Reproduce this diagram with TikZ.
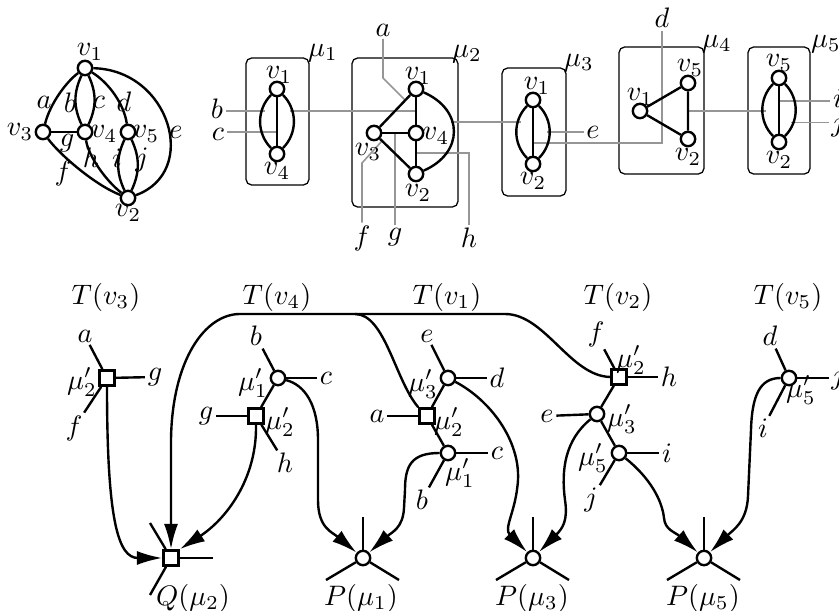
\documentclass[tikz,border=0pt]{standalone}
\usetikzlibrary{arrows.meta,fit}
\definecolor{gline}{RGB}{150,150,150}
\begin{document}
\begin{tikzpicture}[x=0.355pt,y=-0.355pt,
  vtx/.style={circle,draw,line width=0.85pt,fill=white,minimum size=5.1pt,inner sep=0pt},
  sq/.style={rectangle,draw,line width=0.85pt,fill=white,minimum size=5.4pt,inner sep=0pt},
  lbl/.style={inner sep=0.8pt},
  edge/.style={line width=0.85pt},
  gl/.style={line width=0.55pt,draw=gline},
  boxn/.style={draw,line width=0.45pt,rounded corners=2pt,inner sep=0pt},
  arr/.style={line width=0.85pt,-{Latex[length=9pt,width=5pt]}}
]
\useasboundingbox (0,0) rectangle (839,611);
\clip (0,0) rectangle (839,611);

% ---------- top-left graph ----------
\node[vtx] (g1) at (85,68) {};
\node[vtx] (g3) at (43,132) {};
\node[vtx] (g4) at (85,132) {};
\node[vtx] (g5) at (128,132) {};
\node[vtx] (g2) at (128,198) {};
\node[lbl] (tg1) at (90,52) {$v_1$};
\node[lbl] (tg3) at (20,132) {$v_3$};
\node[lbl] (tg4) at (104,134) {$v_4$};
\node[lbl] (tg5) at (146,134) {$v_5$};
\node[lbl] (tg2) at (128,213) {$v_2$};
\draw[edge] (g1) .. controls (66,82) and (50,104) .. (g3);
\draw[edge] (g1) to[bend right=25] (g4);
\draw[edge] (g1) to[bend left=25] (g4);
\draw[edge] (g1) .. controls (109,83) and (124,104) .. (g5);
\draw[edge] (g1) .. controls (170,70) and (200,172) .. (g2);
\draw[edge] (g3) .. controls (60,155) and (95,185) .. (g2);
\draw[edge] (g3) -- (g4);
\draw[edge] (g4) .. controls (88,155) and (105,180) .. (g2);
\draw[edge] (g5) to[bend right=25] (g2);
\draw[edge] (g5) to[bend left=25] (g2);
\node[lbl] (ea) at (44,102) {$a$};
\node[lbl] (eb) at (70,103) {$b$};
\node[lbl] (ec) at (99,102) {$c$};
\node[lbl] (ed) at (124,102) {$d$};
\node[lbl] (ee) at (176,132) {$e$};
\node[lbl] (eg) at (67,143) {$g$};
\node[lbl] (eh) at (91,158) {$h$};
\node[lbl] (ei) at (117,158) {$i$};
\node[lbl] (ej) at (142,160) {$j$};
\node[lbl] (ef) at (63,173) {$f$};

% ---------- boxes ----------
\node[boxn,fit={(246,58) (309,185)}] (m1) {};
\node[boxn,fit={(352,58) (458,207)}] (m2) {};
\node[boxn,fit={(502,68) (566,196)}] (m3) {};
\node[boxn,fit={(619,47) (704,174)}] (m4) {};
\node[boxn,fit={(748,47) (810,174)}] (m5) {};
\node[lbl] (tm1) at (323,53) {$\mu_1$};
\node[lbl] (tm2) at (467,54) {$\mu_2$};
\node[lbl] (tm3) at (579,63) {$\mu_3$};
\node[lbl] (tm4) at (717,44) {$\mu_4$};
\node[lbl] (tm5) at (826,44) {$\mu_5$};

% gray labels
\node[lbl] (lb1) at (217,109) {$b$};
\node[lbl] (lc1) at (218,134) {$c$};
\node[lbl] (la2) at (383,30) {$a$};
\node[lbl] (lg2) at (395,237) {$g$};
\node[lbl] (lf2) at (362,238) {$f$};
\node[lbl] (lh2) at (469,238) {$h$};
\node[lbl] (le3) at (593,132) {$e$};
\node[lbl] (ld4) at (662,18) {$d$};
\node[lbl] (li5) at (838,98) {$i$};
\node[lbl] (lj5) at (838,125) {$j$};

% gray lines
\draw[gl] (lb1.east |- 0,111) -- (265,111);
\draw[gl] (290,111) -- (416,111);
\draw[gl] (lc1.east |- 0,132) -- (277,132);
\draw[gl] (la2) -- (383,78) -- (405,100);
\draw[gl] (lg2) -- (395,133);
\draw[gl] (lf2) -- (362,163) -- (382,141);
\draw[gl] (lh2) -- (469,153) -- (416,153);
\draw[gl] (451,122) -- (521,122);
\draw[gl] (547,132) -- (le3);
\draw[gl] (533,143) -- (662,143) -- (ld4);
\draw[gl] (688,111) -- (766,111);
\draw[gl] (779,101) -- (li5.west |- 0,101);
\draw[gl] (791,122.5) -- (lj5.west |- 0,122.5);

% mu1
\node[vtx] (a1) at (277,89) {};
\node[vtx] (a4) at (277,154) {};
\node[lbl] (ta1) at (279,75) {$v_1$};
\node[lbl] (ta4) at (277,171) {$v_4$};
\draw[edge] (a1) -- (a4);
\draw[edge] (a1) to[bend left=45] (a4);
\draw[edge] (a1) to[bend right=45] (a4);

% mu2
\node[vtx] (b1) at (416,89) {};
\node[vtx] (b3) at (374,133) {};
\node[vtx] (b4) at (416,133) {};
\node[vtx] (b2) at (416,174) {};
\node[lbl] (tb1) at (418,76) {$v_1$};
\node[lbl] (tb3) at (368,152) {$v_3$};
\node[lbl] (tb4) at (436,136) {$v_4$};
\node[lbl] (tb2) at (418,193) {$v_2$};
\draw[edge] (b1) -- (b3);
\draw[edge] (b1) -- (b4);
\draw[edge] (b3) -- (b4);
\draw[edge] (b3) -- (b2);
\draw[edge] (b4) -- (b2);
\draw[edge] (b1) .. controls (464,110) and (464,153) .. (b2);

% mu3
\node[vtx] (c1) at (533,100) {};
\node[vtx] (c2) at (533,164) {};
\node[lbl] (tc1) at (537,86) {$v_1$};
\node[lbl] (tc2) at (533,181) {$v_2$};
\draw[edge] (c1) -- (c2);
\draw[edge] (c1) to[bend left=45] (c2);
\draw[edge] (c1) to[bend right=45] (c2);

% mu4
\node[vtx] (d1) at (640,111) {};
\node[vtx] (d5) at (688,83) {};
\node[vtx] (d2) at (688,139) {};
\node[lbl] (td1) at (640,97) {$v_1$};
\node[lbl] (td5) at (690,68) {$v_5$};
\node[lbl] (td2) at (688,157) {$v_2$};
\draw[edge] (d1) -- (d5) -- (d2) -- (d1);

% mu5
\node[vtx] (e5) at (779,78) {};
\node[vtx] (e2) at (779,142) {};
\node[lbl] (te5) at (779,63) {$v_5$};
\node[lbl] (te2) at (779,160) {$v_2$};
\draw[edge] (e5) -- (e2);
\draw[edge] (e5) to[bend left=45] (e2);
\draw[edge] (e5) to[bend right=45] (e2);

% ---------- bottom ----------
\node[lbl] (T3) at (106,297) {$T(v_3)$};
\node[lbl] (T4) at (277,297) {$T(v_4)$};
\node[lbl] (T1) at (447,297) {$T(v_1)$};
\node[lbl] (T2) at (618,297) {$T(v_2)$};
\node[lbl] (T5) at (788,297) {$T(v_5)$};

% T(v3)
\node[sq] (s31) at (107,378) {};
\node[lbl] (x31a) at (85,336) {$a$};
\node[lbl] (x31g) at (155,377) {$g$};
\node[lbl] (x31f) at (74,428) {$f$};
\node[lbl] (x31m) at (82,382) {$\mu'_2$};
\draw[edge] (s31) -- (x31a);
\draw[edge] (s31) -- (x31g);
\draw[edge] (s31) -- (x31f);

% T(v4)
\node[vtx] (c41) at (278,378) {};
\node[sq] (s42) at (256,416) {};
\node[lbl] (x41b) at (256,336) {$b$};
\node[lbl] (x41c) at (326,378) {$c$};
\node[lbl] (x41m) at (253,383) {$\mu'_1$};
\node[lbl] (x42g) at (206,416) {$g$};
\node[lbl] (x42h) at (285,463) {$h$};
\node[lbl] (x42m) at (280,422) {$\mu'_2$};
\draw[edge] (c41) -- (x41b);
\draw[edge] (c41) -- (x41c);
\draw[edge] (c41) -- (s42);
\draw[edge] (s42) -- (x42g);
\draw[edge] (s42) -- (x42h);

% T(v1)
\node[vtx] (c13) at (448,378) {};
\node[sq] (s12) at (427,416) {};
\node[vtx] (c11) at (448,453) {};
\node[lbl] (x13e) at (427,336) {$e$};
\node[lbl] (x13d) at (497,378) {$d$};
\node[lbl] (x13m) at (423,384) {$\mu'_3$};
\node[lbl] (x12a) at (377,416) {$a$};
\node[lbl] (x12m) at (449,422) {$\mu'_2$};
\node[lbl] (x11c) at (497,453) {$c$};
\node[lbl] (x11b) at (422,500) {$b$};
\node[lbl] (x11m) at (460,473) {$\mu'_1$};
\draw[edge] (c13) -- (x13e);
\draw[edge] (c13) -- (x13d);
\draw[edge] (c13) -- (s12);
\draw[edge] (s12) -- (x12a);
\draw[edge] (s12) -- (c11);
\draw[edge] (c11) -- (x11c);
\draw[edge] (c11) -- (x11b);

% T(v2)
\node[sq] (s22) at (619,377) {};
\node[vtx] (c23) at (597,414) {};
\node[vtx] (c25) at (619,453) {};
\node[lbl] (x22f) at (596,334) {$f$};
\node[lbl] (x22h) at (669,377) {$h$};
\node[lbl] (x22m) at (631,360) {$\mu'_2$};
\node[lbl] (x23e) at (547,416) {$e$};
\node[lbl] (x23m) at (622,419) {$\mu'_3$};
\node[lbl] (x25i) at (667,453) {$i$};
\node[lbl] (x25j) at (591,500) {$j$};
\node[lbl] (x25m) at (593,458) {$\mu'_5$};
\draw[edge] (s22) -- (x22f);
\draw[edge] (s22) -- (x22h);
\draw[edge] (s22) -- (c23);
\draw[edge] (c23) -- (x23e);
\draw[edge] (c23) -- (c25);
\draw[edge] (c25) -- (x25i);
\draw[edge] (c25) -- (x25j);

% T(v5)
\node[vtx] (c55) at (789,378) {};
\node[lbl] (x55d) at (770,336) {$d$};
\node[lbl] (x55j) at (838,378) {$j$};
\node[lbl] (x55i) at (763,428) {$i$};
\node[lbl] (x55m) at (801,390) {$\mu'_5$};
\draw[edge] (c55) -- (x55d);
\draw[edge] (c55) -- (x55j);
\draw[edge] (c55) -- (x55i);

% targets
\node[sq] (Q) at (171,558) {};
\node[vtx] (P1) at (363,558) {};
\node[vtx] (P3) at (533,558) {};
\node[vtx] (P5) at (704,558) {};
\node[lbl] (tQ) at (193,598) {$Q(\mu_2)$};
\node[lbl] (tP1) at (361,598) {$P(\mu_1)$};
\node[lbl] (tP3) at (532,598) {$P(\mu_3)$};
\node[lbl] (tP5) at (703,598) {$P(\mu_5)$};
\draw[edge] (Q) -- (150,523);
\draw[edge] (Q.east) -- (213,558);
\draw[edge] (Q) -- (150,595);
\foreach \p/\x in {P1/363,P3/533,P5/704}{
  \draw[edge] (\p) -- (\x,517);
  \draw[edge] (\p) -- (\x-37,580);
  \draw[edge] (\p) -- (\x+36,580);
}

% arrows
\coordinate (busR) at (505,314);
\coordinate (busM) at (355,314);
\coordinate (busL) at (240,314);
\draw[arr] (s31.south) .. controls (107,520) and (118,558) .. (Q.west);
\draw[arr] (s42.south) .. controls (257,480) and (225,520) .. (Q.north east);
\draw[arr] (s22.west) .. controls (570,376) and (545,314) .. (busR) -- (busL)
  .. controls (205,314) and (172,360) .. (171,440) -- (Q.north);
\draw[line width=0.85pt] (s12.north west) .. controls (395,380) and (385,314) .. (busM);
\draw[arr] (c41) .. controls (305,385) and (318,405) .. (318,440) -- (318,500)
  .. controls (318,528) and (332,532) .. (P1);
\draw[arr] (c11.west) .. controls (412,453) and (405,465) .. (405,490) -- (404,508)
  .. controls (403,528) and (392,532) .. (P1);
\draw[arr] (c13) .. controls (490,400) and (520,440) .. (518,480)
  .. controls (516,512) and (503,528) .. (P3);
\draw[arr] (c23) .. controls (565,440) and (561,470) .. (565,500)
  .. controls (568,520) and (563,528) .. (P3);
\draw[arr] (c25) .. controls (650,478) and (662,500) .. (664,518)
  .. controls (665,530) and (675,532) .. (P5);
\draw[arr] (c55.west) .. controls (760,378) and (752,395) .. (751,430) -- (748,496)
  .. controls (747,522) and (733,530) .. (P5);
\end{tikzpicture}
\end{document}
